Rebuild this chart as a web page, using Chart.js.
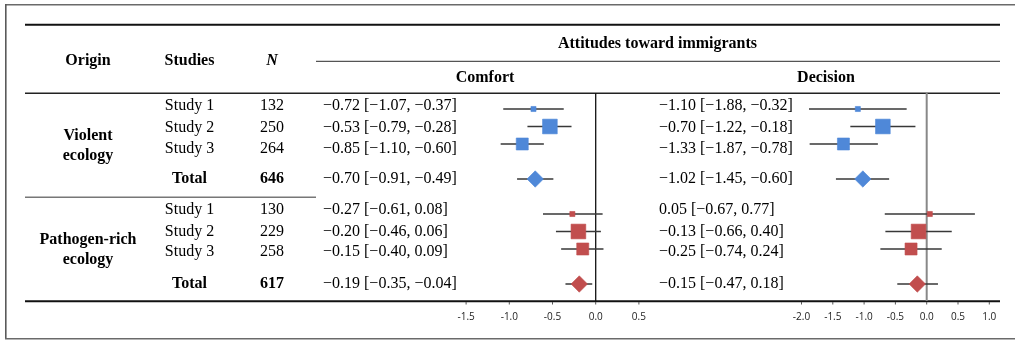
<!DOCTYPE html>
<html>
<head>
<meta charset="utf-8">
<script src="https://cdn.jsdelivr.net/npm/chart.js@4"></script>
<style>
  html, body { margin: 0; padding: 0; background: #fff; overflow: hidden; }
  canvas { display: block; }
</style>
</head>
<body>
<canvas id="forest" width="1015" height="340"></canvas>
<script>
// DATA
const groupLabels = [['Violent', 'ecology'], ['Pathogen-rich', 'ecology']];
const studyLabels = ['Study 1', 'Study 2', 'Study 3', 'Total'];
const violentN = [132, 250, 264, 646];
const pathogenN = [130, 229, 258, 617];

const comfortViolentEst = [-0.72, -0.53, -0.85, -0.70];
const comfortViolentLo = [-1.07, -0.79, -1.10, -0.91];
const comfortViolentHi = [-0.37, -0.28, -0.60, -0.49];
const comfortPathogenEst = [-0.27, -0.20, -0.15, -0.19];
const comfortPathogenLo = [-0.61, -0.46, -0.40, -0.35];
const comfortPathogenHi = [0.08, 0.06, 0.09, -0.04];

const decisionViolentEst = [-1.10, -0.70, -1.33, -1.02];
const decisionViolentLo = [-1.88, -1.22, -1.87, -1.45];
const decisionViolentHi = [-0.32, -0.18, -0.78, -0.60];
const decisionPathogenEst = [0.05, -0.13, -0.25, -0.15];
const decisionPathogenLo = [-0.67, -0.66, -0.74, -0.47];
const decisionPathogenHi = [0.77, 0.40, 0.24, 0.18];

const comfortTicks = [-1.5, -1.0, -0.5, 0.0, 0.5];
const decisionTicks = [-2.0, -1.5, -1.0, -0.5, 0.0, 0.5, 1.0];

// LAYOUT
const W = 1015, H = 340;
const violentRows = [0, 1, 2, 4];
const pathogenRows = [6, 7, 8, 10];
const violentTextY = [106, 127.5, 149, 179];
const pathogenTextY = [210, 231.5, 252, 284];
const studyRadius = [3.6, 10.4, 8.5];
const totalRadius = 8.2;
const blue = '#4f88d8', red = '#c14e4e';
const serif = '"Liberation Serif", "Times New Roman", serif';

// a scale that spans the whole canvas, given where zero sits and px per unit
function span(zeroPx, pxPerUnit, total) {
  return { min: -zeroPx / pxPerUnit, max: (total - zeroPx) / pxPerUnit };
}
const comfortRange = span(595.7, 86.4, W);
const decisionRange = span(926.7, 62.6, W);
const rowRange = span(109, 17.5, H);

function ciLine(lo, hi, rows, axis) {
  const pts = [];
  for (let i = 0; i < lo.length; i++) {
    pts.push({ x: lo[i], y: rows[i] }, { x: hi[i], y: rows[i] }, { x: hi[i], y: null });
  }
  return {
    type: 'line', data: pts, xAxisID: axis, borderColor: '#383838', borderWidth: 1.3,
    pointRadius: 0, spanGaps: false, order: 2
  };
}

function markers(est, rows, axis, color) {
  return {
    type: 'scatter',
    data: est.map((v, i) => ({ x: v, y: rows[i] })),
    xAxisID: axis,
    backgroundColor: color,
    borderColor: color,
    pointStyle: est.map((v, i) => i < 3 ? 'rect' : 'rectRot'),
    pointRadius: est.map((v, i) => i < 3 ? studyRadius[i] : totalRadius),
    pointBorderWidth: 0.6,
    order: 1
  };
}

function fmt(v) {
  return (v < 0 ? '\u2212' : '') + Math.abs(v).toFixed(2);
}
function ciText(est, lo, hi, i) {
  return fmt(est[i]) + ' [' + fmt(lo[i]) + ', ' + fmt(hi[i]) + ']';
}

function hline(ctx, x1, x2, y, w, color) {
  ctx.beginPath();
  ctx.strokeStyle = color;
  ctx.lineWidth = w;
  ctx.moveTo(x1, y);
  ctx.lineTo(x2, y);
  ctx.stroke();
}
function vline(ctx, x, y1, y2, w, color) {
  ctx.beginPath();
  ctx.strokeStyle = color;
  ctx.lineWidth = w;
  ctx.moveTo(x, y1);
  ctx.lineTo(x, y2);
  ctx.stroke();
}

const tablePlugin = {
  id: 'table',
  beforeDatasetsDraw(chart) {
    const ctx = chart.ctx;
    const xc = chart.scales.xc, xd = chart.scales.xd;
    ctx.save();
    // frame
    hline(ctx, 5, W, 4.7, 1.5, '#6a6a6a');
    vline(ctx, 5.8, 4, H - 1, 1.6, '#5a5a5a');
    hline(ctx, 5, W, H - 1.2, 1.5, '#6a6a6a');
    // table rules
    hline(ctx, 25, 1000, 24.7, 2, '#111');
    hline(ctx, 316, 1000, 61.3, 1.2, '#555');
    hline(ctx, 25, 1000, 93.3, 1.4, '#222');
    hline(ctx, 25, 316, 197.3, 1.4, '#777');
    hline(ctx, 25, 1000, 301.2, 2, '#111');
    // zero lines
    vline(ctx, xc.getPixelForValue(0), 93, 301, 1.3, '#111');
    vline(ctx, xd.getPixelForValue(0), 93, 301, 2, '#888');
    // ticks and labels
    ctx.font = '10px "Open Sans", Lato, sans-serif';
    ctx.fillStyle = '#222';
    ctx.textAlign = 'center';
    ctx.textBaseline = 'middle';
    [[xc, comfortTicks], [xd, decisionTicks]].forEach(([sc, ticks]) => {
      ticks.forEach(t => {
        const px = sc.getPixelForValue(t);
        vline(ctx, px, 302, 304.5, 1, '#555');
        ctx.fillText(t.toFixed(1), px, 317);
      });
    });
    ctx.restore();
  },
  afterDatasetsDraw(chart) {
    const ctx = chart.ctx;
    ctx.save();
    ctx.fillStyle = '#000';
    ctx.textBaseline = 'middle';
    ctx.textAlign = 'center';
    // headers
    ctx.font = 'bold 16px ' + serif;
    ctx.fillText('Origin', 88, 61);
    ctx.fillText('Studies', 189.5, 61);
    ctx.fillText('Attitudes toward immigrants', 657.5, 44);
    ctx.fillText('Comfort', 485, 78);
    ctx.fillText('Decision', 826, 78);
    ctx.font = 'italic bold 16px ' + serif;
    ctx.fillText('N', 272, 61);
    // group labels
    ctx.font = 'bold 16px ' + serif;
    ctx.fillText(groupLabels[0][0], 88, 136);
    ctx.fillText(groupLabels[0][1], 88, 155.5);
    ctx.fillText(groupLabels[1][0], 88, 240);
    ctx.fillText(groupLabels[1][1], 88, 259.5);

    const blocks = [
      [violentTextY, violentN, [comfortViolentEst, comfortViolentLo, comfortViolentHi], [decisionViolentEst, decisionViolentLo, decisionViolentHi]],
      [pathogenTextY, pathogenN, [comfortPathogenEst, comfortPathogenLo, comfortPathogenHi], [decisionPathogenEst, decisionPathogenLo, decisionPathogenHi]]
    ];
    blocks.forEach(([ys, ns, c, d]) => {
      studyLabels.forEach((lab, i) => {
        const bold = i === 3 ? 'bold ' : '';
        ctx.font = bold + '16px ' + serif;
        ctx.textAlign = 'center';
        ctx.fillText(lab, 189.5, ys[i]);
        ctx.fillText(String(ns[i]), 272, ys[i]);
        ctx.font = '16px ' + serif;
        ctx.textAlign = 'left';
        ctx.fillText(ciText(c[0], c[1], c[2], i), 323, ys[i]);
        ctx.fillText(ciText(d[0], d[1], d[2], i), 659, ys[i]);
      });
    });
    ctx.restore();
  }
};

new Chart(document.getElementById('forest').getContext('2d'), {
  type: 'scatter',
  data: {
    datasets: [
      markers(comfortViolentEst, violentRows, 'xc', blue),
      markers(comfortPathogenEst, pathogenRows, 'xc', red),
      markers(decisionViolentEst, violentRows, 'xd', blue),
      markers(decisionPathogenEst, pathogenRows, 'xd', red),
      ciLine(comfortViolentLo, comfortViolentHi, violentRows, 'xc'),
      ciLine(comfortPathogenLo, comfortPathogenHi, pathogenRows, 'xc'),
      ciLine(decisionViolentLo, decisionViolentHi, violentRows, 'xd'),
      ciLine(decisionPathogenLo, decisionPathogenHi, pathogenRows, 'xd')
    ]
  },
  options: {
    responsive: false,
    animation: false,
    devicePixelRatio: 1,
    events: [],
    layout: { padding: 0, autoPadding: false },
    plugins: { legend: { display: false }, tooltip: { enabled: false } },
    scales: {
      xc: { type: 'linear', axis: 'x', display: false, min: comfortRange.min, max: comfortRange.max },
      xd: { type: 'linear', axis: 'x', display: false, min: decisionRange.min, max: decisionRange.max },
      y: { type: 'linear', display: false, reverse: true, min: rowRange.min, max: rowRange.max }
    }
  },
  plugins: [tablePlugin]
});
</script>
</body>
</html>
